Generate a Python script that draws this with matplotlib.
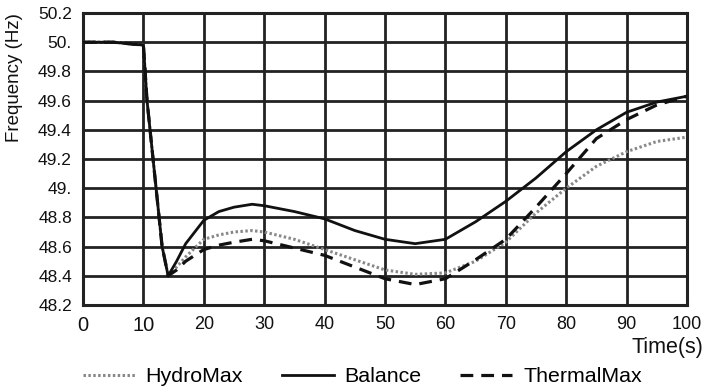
import matplotlib
matplotlib.use("Agg")
import matplotlib.pyplot as plt

plt.rcParams['font.family'] = ['Liberation Sans', 'DejaVu Sans']

time_s = [0, 5, 10, 10.6, 12.1, 13.1, 14.1, 15.5, 17, 20, 22.5, 25, 28, 30, 35, 40,
          45, 50, 55, 60, 65, 70, 75, 80, 85, 90, 95, 100]
balance = [50.0, 50.0, 49.98, 49.6, 49.0, 48.6, 48.4, 48.5, 48.62, 48.78, 48.84, 48.87,
           48.89, 48.88, 48.84, 48.79, 48.71, 48.65, 48.62, 48.65, 48.77, 48.91, 49.07,
           49.25, 49.40, 49.52, 49.59, 49.63]
hydromax = [50.0, 50.0, 49.98, 49.6, 49.0, 48.6, 48.4, 48.46, 48.53, 48.65, 48.68, 48.70,
            48.71, 48.70, 48.65, 48.58, 48.51, 48.44, 48.41, 48.42, 48.50, 48.63, 48.83,
            49.0, 49.15, 49.25, 49.32, 49.35]
thermalmax = [50.0, 50.0, 49.98, 49.6, 49.0, 48.6, 48.4, 48.44, 48.5, 48.58, 48.61, 48.63,
              48.65, 48.64, 48.59, 48.54, 48.46, 48.38, 48.34, 48.38, 48.51, 48.65, 48.87,
              49.1, 49.34, 49.47, 49.57, 49.63]

yticks = [48.2, 48.4, 48.6, 48.8, 49.0, 49.2, 49.4, 49.6, 49.8, 50.0, 50.2]
ytick_labels = ['48.2', '48.4', '48.6', '48.8', '49.', '49.2', '49.4', '49.6', '49.8', '50.', '50.2']
xticks = [0, 10, 20, 30, 40, 50, 60, 70, 80, 90, 100]
xtick_labels = ['0', '10', '20', '30', '40', '50', '60', '70', '80', '90', '100']

fig = plt.figure(figsize=(7.06, 3.91), dpi=100)
ax = fig.add_axes([83/706, 1-305/391, (687-83)/706, (305-13)/391])

ax.plot(time_s, hydromax, color='#888888', lw=2.2, linestyle=(0, (0.8, 0.8)), label='HydroMax', zorder=3)
ax.plot(time_s, balance, color='#111111', lw=2.0, linestyle='-', label='Balance', zorder=4)
ax.plot(time_s, thermalmax, color='#111111', lw=2.3, linestyle=(0, (4, 2.5)), label='ThermalMax', zorder=3)

ax.set_xlim(0, 100)
ax.set_ylim(48.2, 50.2)
ax.set_yticks(yticks, ytick_labels)
ax.set_xticks(xticks, xtick_labels)
ax.grid(True, color='#222222', lw=2.0)
ax.set_axisbelow(True)
for sp in ax.spines.values():
    sp.set_color('#222222')
    sp.set_linewidth(2.2)
ax.tick_params(axis='y', length=0, pad=8, labelsize=12.5, colors='#111111')
ax.tick_params(axis='x', length=0, pad=8, labelsize=13, colors='#111111')
for lab in ax.get_xticklabels():
    if lab.get_text() in ('0', '10'):
        lab.set_fontsize(14.5)

fig.text(15/706, 1-78/391, 'Frequency (Hz)', rotation=90, ha='center', va='center',
         fontsize=13.5, color='#111111')
fig.text(703/706, 1-348/391, 'Time(s)', ha='right', va='center', fontsize=15.5, color='#111111')

handles = ax.get_lines()
fig.legend(handles=handles, labels=[h.get_label() for h in handles], loc='center',
           bbox_to_anchor=(0.513, 1-377/391), ncol=3, frameon=False, fontsize=15.4,
           handlelength=2.43, handletextpad=0.5, columnspacing=1.82, borderpad=0)

fig.savefig('out.png', dpi=100)
